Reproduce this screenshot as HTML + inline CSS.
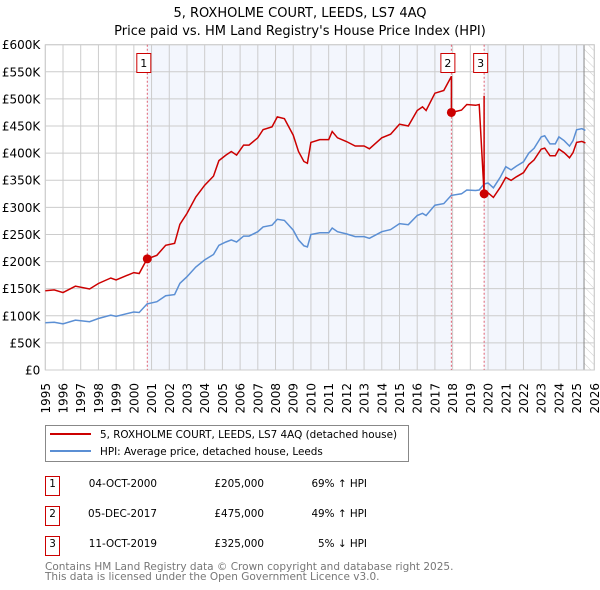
<!DOCTYPE html>
<html><head><meta charset="utf-8"><style>
body{margin:0;background:#fff;font-family:"DejaVu Sans","Liberation Sans",sans-serif;}
svg{display:block}
</style></head><body>
<svg id="c" width="600" height="590" xmlns="http://www.w3.org/2000/svg" font-family="DejaVu Sans, Liberation Sans, sans-serif">
<defs><pattern id="hatch" width="6" height="6" patternUnits="userSpaceOnUse" patternTransform="rotate(-45)"><line x1="0" y1="0" x2="0" y2="6" stroke="#ccc" stroke-width="1"/></pattern></defs>
<text x="300" y="17" text-anchor="middle" font-size="13">5, ROXHOLME COURT, LEEDS, LS7 4AQ</text>
<text x="300" y="35" text-anchor="middle" font-size="13">Price paid vs. HM Land Registry's House Price Index (HPI)</text>
<g id="plot"></g>
<g>
<rect x="45.5" y="425.5" width="363" height="36" fill="#fff" stroke="#888"/>
<line x1="50" y1="434" x2="91" y2="434" stroke="#cc0000" stroke-width="2"/>
<text x="100" y="438" font-size="10.4">5, ROXHOLME COURT, LEEDS, LS7 4AQ (detached house)</text>
<line x1="50" y1="451" x2="91" y2="451" stroke="#5b8fd4" stroke-width="2"/>
<text x="100" y="455" font-size="10.4">HPI: Average price, detached house, Leeds</text>
</g>
<g font-size="10.4">
<rect x="45.5" y="476.5" width="14" height="19" fill="#fff" stroke="#cc0000"/><text x="52.5" y="487" text-anchor="middle">1</text>
<text x="157" y="487" text-anchor="end">04-OCT-2000</text><text x="264" y="487" text-anchor="end">£205,000</text><text x="367" y="487" text-anchor="end">69% ↑ HPI</text>
<rect x="45.5" y="506.5" width="14" height="19" fill="#fff" stroke="#cc0000"/><text x="52.5" y="517" text-anchor="middle">2</text>
<text x="157" y="517" text-anchor="end">05-DEC-2017</text><text x="264" y="517" text-anchor="end">£475,000</text><text x="367" y="517" text-anchor="end">49% ↑ HPI</text>
<rect x="45.5" y="536.5" width="14" height="19" fill="#fff" stroke="#cc0000"/><text x="52.5" y="547" text-anchor="middle">3</text>
<text x="157" y="547" text-anchor="end">11-OCT-2019</text><text x="264" y="547" text-anchor="end">£325,000</text><text x="367" y="547" text-anchor="end">5% ↓ HPI</text>
</g>
<text x="45" y="570" font-size="10.5" fill="#777">Contains HM Land Registry data © Crown copyright and database right 2025.</text>
<text x="45" y="580" font-size="10.5" fill="#777">This data is licensed under the Open Government Licence v3.0.</text>
</svg>
<script>
const hpiYears=[1995.0,1995.5,1996.0,1996.7,1997.5,1998.0,1998.7,1999.0,2000.0,2000.3,2000.75,2001.3,2001.8,2002.3,2002.6,2003.0,2003.5,2004.0,2004.5,2004.8,2005.2,2005.5,2005.8,2006.2,2006.5,2007.0,2007.3,2007.8,2008.1,2008.5,2009.0,2009.3,2009.6,2009.8,2010.0,2010.5,2011.0,2011.2,2011.5,2012.0,2012.5,2013.0,2013.3,2014.0,2014.5,2015.0,2015.5,2016.0,2016.3,2016.5,2017.0,2017.5,2017.92,2018.5,2018.8,2019.3,2019.5,2019.78,2020.0,2020.3,2020.7,2021.0,2021.3,2021.6,2022.0,2022.3,2022.6,2023.0,2023.2,2023.5,2023.8,2024.0,2024.3,2024.6,2024.8,2025.0,2025.3,2025.5];
const hpiValues=[87,88,85,92,89,95,101,99,107,106,122,126,137,139,160,172,190,203,213,230,236,240,236,247,247,255,264,267,278,276,258,240,229,227,250,253,253,262,255,251,246,246,243,255,259,270,268,285,289,285,304,307,322,325,332,331,332,343,345,336,356,375,369,376,384,400,409,430,432,417,417,430,423,413,423,443,445,442];
const saleYears=[2000.76,2017.93,2019.78];
const salePrices=[205,475,325];
const yTicks=[0,50,100,150,200,250,300,350,400,450,500,550,600];
const xTicks=[1995,1996,1997,1998,1999,2000,2001,2002,2003,2004,2005,2006,2007,2008,2009,2010,2011,2012,2013,2014,2015,2016,2017,2018,2019,2020,2021,2022,2023,2024,2025,2026];

const L=45.3,R=594.3,T=44.7,B=370;
const X=y=>L+(y-1995)/(2026-1995)*(R-L);
const Y=v=>B-v/600*(B-T);
const NS='http://www.w3.org/2000/svg';
const g=document.getElementById('plot');
function mk(tag,attrs){const e=document.createElementNS(NS,tag);for(const k in attrs)e.setAttribute(k,attrs[k]);g.appendChild(e);return e;}
function hpiAt(y){for(let i=1;i<hpiYears.length;i++){if(y<=hpiYears[i]){const t=(y-hpiYears[i-1])/(hpiYears[i]-hpiYears[i-1]);return hpiValues[i-1]+t*(hpiValues[i]-hpiValues[i-1]);}}return hpiValues[hpiValues.length-1];}
const hatchX=X(2025.42);
let bg=mk('rect',{x:L,y:T,width:R-L,height:B-T,fill:'#fff'});


let s1=mk('rect',{x:X(saleYears[0]),y:T,width:X(saleYears[1])-X(saleYears[0]),height:B-T,fill:'#f3f6fd'});


let s2=mk('rect',{x:X(saleYears[2]),y:T,width:hatchX-X(saleYears[2]),height:B-T,fill:'#f3f6fd'});


let hz=mk('rect',{x:hatchX,y:T,width:R-hatchX,height:B-T,fill:'url(#hatch)'});


yTicks.forEach(v=>{
 let l=mk('line',{x1:L,x2:R,y1:Y(v),y2:Y(v),stroke:'#cccccc','stroke-width':1});
 
 
 let t=mk('text',{x:L-5,y:Y(v)+4.5,'text-anchor':'end','font-size':12});
 
 
 t.textContent=v===0?'£0':'£'+v+'K';
});
xTicks.forEach(yr=>{
 let l=mk('line',{x1:X(yr),x2:X(yr),y1:T,y2:B,stroke:'#cccccc','stroke-width':1});
 
 
 let t=mk('text',{x:0,y:0,'text-anchor':'end','font-size':12,transform:`translate(${X(yr)+4.5},383) rotate(-90)`});
 
 
 t.textContent=yr;
});
let hl=mk('line',{x1:hatchX,x2:hatchX,y1:T,y2:B,stroke:'#888','stroke-width':1});


let fr=mk('rect',{x:L,y:T,width:R-L,height:B-T,fill:'none',stroke:'#ccc'});


saleYears.forEach((sy,i)=>{
 let l=mk('line',{x1:X(sy),x2:X(sy),y1:T,y2:B,stroke:'#e06070','stroke-width':1,'stroke-dasharray':'2,2'});
 
 
});
let hp=mk('path',{d:hpiYears.map((y,i)=>(i?'L':'M')+X(y).toFixed(1)+','+Y(hpiValues[i]).toFixed(1)).join(''),fill:'none',stroke:'#5b8fd4','stroke-width':1.5});


const ratios=saleYears.map((sy,i)=>salePrices[i]/hpiAt(sy));
function ratioFor(y){let r=ratios[0];for(let i=0;i<saleYears.length;i++)if(y>=saleYears[i])r=ratios[i];return r;}
let pts=[];let si=1;
hpiYears.forEach((y,i)=>{
 while(si<saleYears.length&&y>saleYears[si]){const sy=saleYears[si];const h=hpiAt(sy);pts.push([sy,h*ratios[si-1]]);pts.push([sy,h*ratios[si]]);si++;}
 pts.push([y,hpiValues[i]*ratioFor(y)]);
});
let pp=mk('path',{d:pts.map((p,i)=>(i?'L':'M')+X(p[0]).toFixed(1)+','+Y(p[1]).toFixed(1)).join(''),fill:'none',stroke:'#cc0000','stroke-width':1.5});


saleYears.forEach((sy,i)=>{
 let c=mk('circle',{cx:X(sy),cy:Y(salePrices[i]),r:4.5,fill:'#cc0000'});
 
 
 let b=mk('rect',{x:X(sy)-10.5,y:53.5,width:14,height:19,fill:'#fff',stroke:'#cc0000'});
 
 
 let t=mk('text',{x:X(sy)-3.5,y:67,'text-anchor':'middle','font-size':11});
 
 
 t.textContent=i+1;
});
</script>
</body></html>
